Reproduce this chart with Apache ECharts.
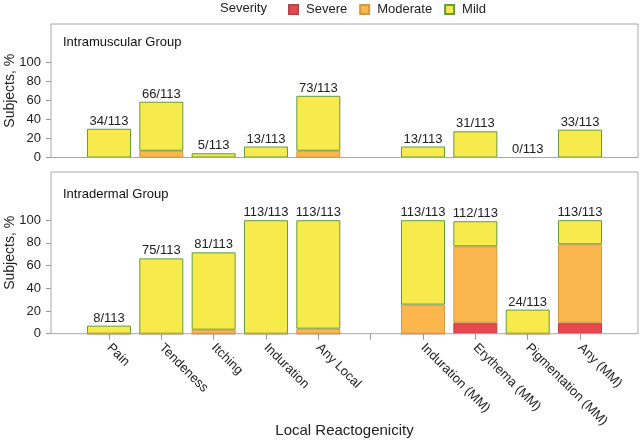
<!DOCTYPE html>
<html>
<head>
<meta charset="utf-8">
<script src="https://cdn.jsdelivr.net/npm/echarts@6/dist/echarts.min.js"></script>
<style>html,body{margin:0;padding:0;background:#fff}#c{width:640px;height:442px}</style>
</head>
<body>
<div id="c"></div>
<script>
// ---- data ----
const N = 113;
const categories = ['Pain','Tendeness','Itching','Induration','Any Local','','Induration (MM)','Erythema (MM)','Pigmentation (MM)','Any (MM)'];
const yTicks = [0, 20, 40, 60, 80, 100];
// Intramuscular group: subjects count by severity
const imSevere   = [0, 0, 0, 0, 0, null, 0, 0, 0, 0];
const imModerate = [0, 8, 0, 0, 8, null, 0, 0, 0, 0];
const imMild     = [34, 58, 5, 13, 65, null, 13, 31, 0, 33];
const imTotal    = [34, 66, 5, 13, 73, null, 13, 31, 0, 33];
// Intradermal group
const idSevere   = [0, 0, 0, 0, 0, null, 0, 11, 0, 11];
const idModerate = [0, 0, 4, 0, 5, null, 29, 76, 0, 78];
const idMild     = [8, 75, 77, 113, 108, null, 84, 25, 24, 24];
const idTotal    = [8, 75, 81, 113, 113, null, 113, 112, 24, 113];

const pct = arr => arr.map(v => v == null ? '-' : v / N * 100);

const FONT = 'Liberation Sans, Arial, sans-serif';
const colors = {
  Severe:   { color: '#E6484F', borderColor: '#B4474B' },
  Moderate: { color: '#FBB64E', borderColor: '#D09A47' },
  Mild:     { color: '#F6EA4D', borderColor: '#669A3E' }
};

function mkSeries(name, data, gi, totals) {
  const s = {
    name, type: 'bar', stack: 'g' + gi,
    xAxisIndex: gi, yAxisIndex: gi,
    data: pct(data),
    barWidth: 44,
    itemStyle: { color: colors[name].color, borderColor: colors[name].borderColor, borderWidth: 1 },
    emphasis: { disabled: true },
    animation: false
  };
  if (totals) {
    s.label = {
      show: true, position: 'top', distance: 1,
      fontFamily: FONT, fontSize: 13, color: '#222',
      formatter: p => totals[p.dataIndex] == null ? '' : totals[p.dataIndex] + '/' + N
    };
  }
  return s;
}

const grids = [
  { left: 82.8, right: 33.8, top: 24, bottom: 284.5, containLabel: false, outerBoundsMode: 'none' },
  { left: 82.8, right: 33.8, top: 172, bottom: 108.3, containLabel: false, outerBoundsMode: 'none' }
];
const yMax = [139.8, 142.5];

function mkY(i) {
  return {
    type: 'value', gridIndex: i, min: 0, max: yMax[i], offset: 31.8,
    name: 'Subjects, %', nameLocation: 'middle', nameGap: 34, nameMoveOverlap: false,
    nameTextStyle: { fontFamily: FONT, fontSize: 14, color: '#222' },
    splitLine: { show: false },
    axisLine: { show: false },
    axisTick: { show: true, length: 5, lineStyle: { color: '#999' }, customValues: yTicks },
    axisLabel: { fontFamily: FONT, fontSize: 13, color: '#222', margin: 10, customValues: yTicks }
  };
}

const option = {
  animation: false,
  textStyle: { fontFamily: FONT },
  title: [
    { text: 'Severity', left: 215, top: -3, textStyle: { fontFamily: FONT, fontSize: 13, fontWeight: 'normal', color: '#222' } },
    { text: 'Intramuscular Group', left: 58, top: 31, textStyle: { fontFamily: FONT, fontSize: 13, fontWeight: 'normal', color: '#111' } },
    { text: 'Intradermal Group', left: 58, top: 183, textStyle: { fontFamily: FONT, fontSize: 13, fontWeight: 'normal', color: '#111' } }
  ],
  legend: {
    data: ['Severe', 'Moderate', 'Mild'],
    left: 283, top: -2, icon: 'rect', itemWidth: 9, itemHeight: 9, itemGap: 12,
    selectedMode: false,
    textStyle: { fontFamily: FONT, fontSize: 13, color: '#222', padding: [0, 0, 0, 3] }
  },
  graphic: [
    { type: 'rect', shape: { x: 51, y: 24, width: 587, height: 133.5 }, style: { fill: 'none', stroke: '#a8a8a8', lineWidth: 1 }, silent: true, z: 10 },
    { type: 'rect', shape: { x: 51, y: 172, width: 587, height: 161.7 }, style: { fill: 'none', stroke: '#a8a8a8', lineWidth: 1 }, silent: true, z: 10 }
  ],
  grid: grids,
  xAxis: [
    { type: 'category', gridIndex: 0, data: categories,
      axisLine: { show: false }, axisTick: { show: false }, axisLabel: { show: false } },
    { type: 'category', gridIndex: 1, data: categories,
      name: 'Local Reactogenicity', nameLocation: 'middle', nameGap: 90, nameMoveOverlap: false,
      nameTextStyle: { fontFamily: FONT, fontSize: 15, color: '#222' },
      axisLine: { show: false },
      axisTick: { show: true, alignWithLabel: true, length: 6, lineStyle: { color: '#999' } },
      axisLabel: { rotate: -45, interval: 0, fontFamily: FONT, fontSize: 13, color: '#222', margin: 12 } }
  ],
  yAxis: [mkY(0), mkY(1)],
  series: [
    mkSeries('Severe', imSevere, 0),
    mkSeries('Moderate', imModerate, 0),
    mkSeries('Mild', imMild, 0, imTotal),
    mkSeries('Severe', idSevere, 1),
    mkSeries('Moderate', idModerate, 1),
    mkSeries('Mild', idMild, 1, idTotal)
  ]
};

const chart = echarts.init(document.getElementById('c'), null, { renderer: 'canvas' });
chart.setOption(option);
</script>
</body>
</html>
